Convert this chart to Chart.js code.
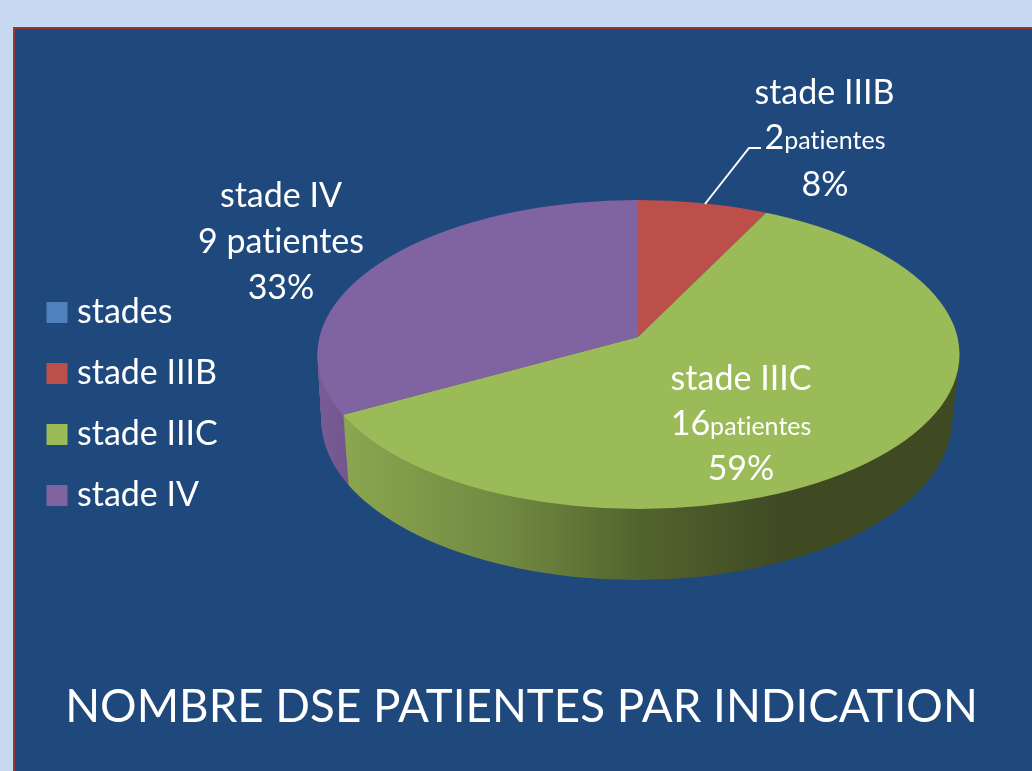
<!DOCTYPE html>
<html lang="fr"><head><meta charset="utf-8">
<style>
html,body{margin:0;padding:0;width:1032px;height:771px;overflow:hidden;background:#C6D9F1}
#panel{position:absolute;left:13px;top:27px;width:1019px;height:744px;box-sizing:border-box;background:#1F497D;border-top:2px solid #953735;border-left:2px solid #953735}
#wrap{position:absolute;left:11px;top:0;width:1021px;height:771px}
</style>
<script src="https://cdn.jsdelivr.net/npm/chart.js@4"></script>
</head><body>
<div id="panel"></div>
<div id="wrap"><canvas id="c"></canvas></div>
<script>
const categories = ['stades','stade IIIB','stade IIIC','stade IV'];
const patients = [0,2,16,9];
const percents = ['', '8%', '59%', '33%'];
const colors = ['#4F81BD','#BD4F4B','#9BBB59','#8064A2'];
const title = 'NOMBRE DSE PATIENTES PAR INDICATION';
const FONT = 'Lato';
const OX = 11; // canvas x offset on the page

// 3D projection of the pie, in canvas pixels
const P = {ax:638-OX, ay:337, ecx:638.5-OX, ecy:354.5, erx:321, ery:154.5, R:420, upper:.487, lower:.457, depth:71};

function mapArc(ctx,arc,dy,sy){
  ctx.translate(P.ax,P.ay+dy);
  ctx.scale(P.R/arc.outerRadius,P.R*sy/arc.outerRadius);
  ctx.translate(-arc.x,-arc.y);
}
function paint(ctx,arc,fill){
  const saved=arc.options;
  arc.options=Object.assign({},saved,{backgroundColor:fill,borderWidth:0});
  arc.draw(ctx);
  arc.options=saved;
}
function wallGradient(ctx,arc,stops){
  const k=arc.outerRadius/P.R;
  const lx=X=>arc.x+(X-OX-P.ax)*k;
  const g=ctx.createLinearGradient(lx(stops[0][0]),0,lx(stops[stops.length-1][0]),0);
  const a=stops[0][0],b=stops[stops.length-1][0];
  stops.forEach(s=>g.addColorStop((s[0]-a)/(b-a),s[1]));
  return g;
}
const pie3d={
  id:'pie3d',
  afterLayout(chart){
    const l=chart.legend;
    const pad=l.options.labels.padding;
    const w=l.right-l.left,h=l.bottom-l.top;
    l.left=54-OX-pad; l.right=l.left+w+200;
    l.top=295.5-pad; l.bottom=l.top+h+400;
  },
  beforeDatasetDraw(chart){
    const ctx=chart.ctx,arcs=chart.getDatasetMeta(0).data;
    // side wall: the purple and green slices swept downwards
    const wallFill=[null,null,
      wallGradient(ctx,arcs[2],[[345,'#8BA650'],[500,'#728B42'],[640,'#52642E'],[780,'#3F4A23'],[960,'#3F4A23']]),
      wallGradient(ctx,arcs[3],[[317,'#7A5C96'],[350,'#72568C']])];
    for(let d=P.depth;d>=1;d--){
      const t=d/P.depth;
      [3,2].forEach(i=>{
        ctx.save();
        ctx.beginPath();
        ctx.ellipse(P.ecx-2*t,P.ecy+66*t,P.erx-6*t,P.ery+5*t,0,0,Math.PI*2);
        ctx.clip();
        mapArc(ctx,arcs[i],d,P.lower);
        paint(ctx,arcs[i],wallFill[i]);
        ctx.restore();
      });
    }
    // top face: different foreshortening above and below the apex
    [[P.upper,0,P.ay],[P.lower,P.ay,chart.height]].forEach(([sy,y0,y1])=>{
      ctx.save();
      ctx.beginPath();
      ctx.rect(0,y0,chart.width,y1-y0);
      ctx.clip();
      ctx.beginPath();
      ctx.ellipse(P.ecx,P.ecy,P.erx,P.ery,0,0,Math.PI*2);
      ctx.clip();
      mapArc(ctx,arcs[0],0,sy);
      arcs.forEach((a,i)=>paint(ctx,a,colors[i]));
      ctx.restore();
    });
    return false;
  },
  afterDraw(chart){
    const ctx=chart.ctx;
    ctx.save();
    ctx.fillStyle='#fff';ctx.textBaseline='alphabetic';
    ctx.letterSpacing='0.01px'; // keeps "ti" as two letters
    const big='34px '+FONT, small='25px '+FONT;
    const center=(t,x,y)=>{ctx.font=big;ctx.textAlign='center';ctx.fillText(t,x-OX,y);};
    const mixed=(n,x,y)=>{
      const u='patientes';
      ctx.font=big;const w1=ctx.measureText(String(n)).width;
      ctx.font=small;const w2=ctx.measureText(u).width;
      const s=x-OX-(w1+w2)/2;
      ctx.textAlign='left';
      ctx.font=big;ctx.fillText(String(n),s,y);
      ctx.font=small;ctx.fillText(u,s+w1,y);
    };
    center(categories[1],824.5,104);mixed(patients[1],825,149);center(percents[1],825,196);
    center(categories[2],741,390);mixed(patients[2],741,435);center(percents[2],741,480);
    center(categories[3],281,207);center(patients[3]+' patientes',281,253);center(percents[3],281,299);
    ctx.strokeStyle='#fff';ctx.lineWidth=2;
    ctx.beginPath();ctx.moveTo(705-OX,204);ctx.lineTo(749-OX,148);ctx.lineTo(761-OX,148);ctx.stroke();
    ctx.restore();
  }
};
new Chart(document.getElementById('c'),{
  type:'pie',
  data:{labels:categories,datasets:[{data:patients,backgroundColor:colors,borderWidth:0}]},
  plugins:[pie3d],
  options:{
    responsive:true,maintainAspectRatio:false,animation:false,
    layout:{padding:{top:20,bottom:20}},
    plugins:{
      tooltip:{enabled:false},
      legend:{position:'left',align:'start',labels:{
        color:'#fff',font:{family:FONT,size:34},usePointStyle:true,pointStyle:'rect',
        boxWidth:6,boxHeight:21,padding:27
      }},
      title:{display:true,text:title,position:'bottom',color:'#fff',
        font:{family:FONT,size:45.7,weight:'normal'},padding:{top:0,bottom:16}}
    }
  }
});
</script>
</body></html>
